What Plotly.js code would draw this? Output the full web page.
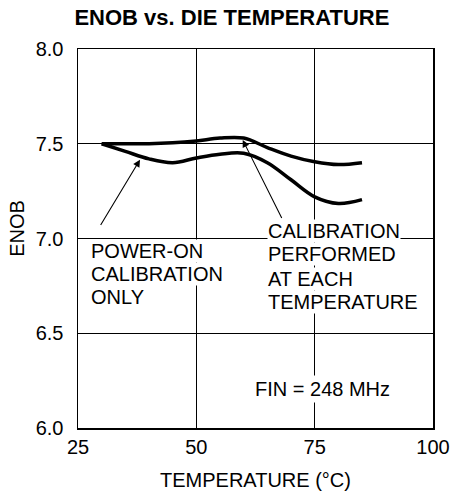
<!DOCTYPE html>
<html>
<head>
<meta charset="utf-8">
<script src="https://cdn.plot.ly/plotly-3.0.1.min.js"></script>
<style>html,body{margin:0;padding:0;background:#fff;}#chart{width:452px;height:498px;}</style>
</head>
<body>
<div id="chart"></div>
<script>
const temperature = [30, 35, 40, 45, 50, 55, 60, 65, 70, 75, 80, 85];
const enobCalEachTemp = [7.50, 7.50, 7.50, 7.505, 7.515, 7.53, 7.53, 7.48, 7.435, 7.405, 7.39, 7.40];
const enobPowerOnOnly = [7.50, 7.46, 7.42, 7.40, 7.425, 7.445, 7.45, 7.40, 7.31, 7.22, 7.185, 7.205];
const xTicks = [25, 50, 75, 100];
const xTickLabels = ["25", "50", "75", "100"];
const yTicks = [6.0, 6.5, 7.0, 7.5, 8.0];
const yTickLabels = ["6.0", "6.5", "7.0", "7.5", "8.0"];
const powerOnLines = ["POWER-ON", "CALIBRATION", "ONLY"];
const calEachLines = ["CALIBRATION", "PERFORMED", "AT EACH", "TEMPERATURE"];
const finLabel = "FIN = 248 MHz";
const yTitle = "ENOB";

const FONT = "Liberation Sans, Arial, sans-serif";

const traces = [
  {x: temperature, y: enobCalEachTemp, mode: "lines", line: {color: "#000", width: 3.5, shape: "spline", smoothing: 1}, hoverinfo: "skip"},
  {x: temperature, y: enobPowerOnOnly, mode: "lines", line: {color: "#000", width: 3.5, shape: "spline", smoothing: 1}, hoverinfo: "skip"}
];

const annotations = [];
const powerOnY = [6.932, 6.811, 6.689];
powerOnLines.forEach((t, i) => annotations.push({
  x: 27.6, y: powerOnY[i], xref: "x", yref: "y", text: t, showarrow: false,
  xanchor: "left", yanchor: "middle", bgcolor: "#fff", borderpad: 0,
  font: {family: FONT, size: 20, color: "#000"}
}));
const calY = [7.037, 6.916, 6.784, 6.663];
calEachLines.forEach((t, i) => annotations.push({
  x: 65.0, y: calY[i], xref: "x", yref: "y", text: t, showarrow: false,
  xanchor: "left", yanchor: "middle", bgcolor: "#fff", borderpad: 0,
  font: {family: FONT, size: 20, color: "#000"}
}));
annotations.push({
  x: 61.8, y: 6.205, xref: "x", yref: "y", text: finLabel, showarrow: false,
  xanchor: "left", yanchor: "middle", bgcolor: "#fff", borderpad: 2,
  font: {family: FONT, size: 20, color: "#000"}
});
// arrows
annotations.push({
  x: 38.1, y: 7.416, ax: 29.6, ay: 7.063, xref: "x", yref: "y", axref: "x", ayref: "y",
  text: "", showarrow: true, arrowhead: 2, arrowsize: 1.3, arrowwidth: 1.1, arrowcolor: "#000"
});
annotations.push({
  x: 59.8, y: 7.52, ax: 68.2, ay: 7.10, xref: "x", yref: "y", axref: "x", ayref: "y",
  text: "", showarrow: true, arrowhead: 2, arrowsize: 1.3, arrowwidth: 1.1, arrowcolor: "#000"
});
// y-axis title placed as in the reference (paper coords are relative to the plot area)
annotations.push({
  x: -0.172, y: 0.528, xref: "paper", yref: "paper", text: yTitle, textangle: -90,
  showarrow: false, xanchor: "center", yanchor: "middle",
  font: {family: FONT, size: 20, color: "#000"}
});

const layout = {
  width: 452, height: 498,
  margin: {l: 78, r: 19, t: 49, b: 70, pad: 0},
  paper_bgcolor: "#fff", plot_bgcolor: "#fff",
  showlegend: false,
  title: {text: "<b>ENOB vs. DIE TEMPERATURE</b>", x: 0.513, xanchor: "center", y: 0.966, yanchor: "middle",
          font: {family: FONT, size: 22, color: "#000"}},
  xaxis: {
    range: [25, 100], tickvals: xTicks, ticktext: xTickLabels, ticks: "", ticklabelstandoff: 0,
    showgrid: true, gridcolor: "#000", gridwidth: 1, zeroline: false,
    showline: true, linecolor: "#000", linewidth: 1.5, mirror: true,
    tickfont: {family: FONT, size: 20, color: "#000"},
    title: {text: "TEMPERATURE (°C)", standoff: 16, font: {family: FONT, size: 20, color: "#000"}},
    fixedrange: true
  },
  yaxis: {
    range: [6.0, 8.0], tickvals: yTicks, ticktext: yTickLabels, ticks: "", ticklabelstandoff: 9,
    showgrid: true, gridcolor: "#000", gridwidth: 1, zeroline: false,
    showline: true, linecolor: "#000", linewidth: 1.5, mirror: true,
    tickfont: {family: FONT, size: 20, color: "#000"},
    fixedrange: true
  },
  annotations: annotations
};

Plotly.newPlot("chart", traces, layout, {displayModeBar: false, staticPlot: true});
</script>
</body>
</html>
